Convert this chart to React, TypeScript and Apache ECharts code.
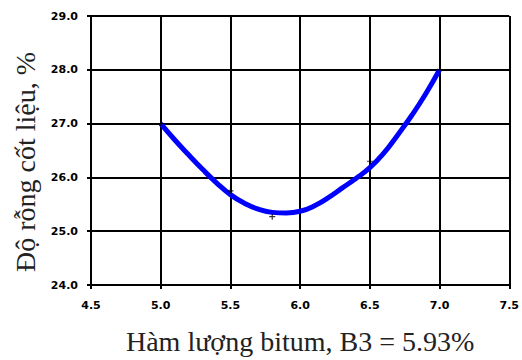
import React, { useEffect, useRef } from "react";
import * as echarts from "echarts";

// Measured points (bitumen content %, VMA %)
const pointX = [5.0, 5.5, 5.8, 6.5, 7.0];
const pointY = [27.0, 25.75, 25.27, 26.3, 28.0];

// Fitted trend curve
const curveX = [5.0, 5.1, 5.2, 5.3, 5.4, 5.5, 5.6, 5.7, 5.8, 5.9, 6.0, 6.1, 6.2, 6.3, 6.4, 6.5, 6.6, 6.7, 6.8, 6.9, 7.0];
const curveY = [27.0, 26.7, 26.42, 26.15, 25.9, 25.68, 25.52, 25.41, 25.35, 25.34, 25.37, 25.47, 25.62, 25.8, 25.98, 26.18, 26.45, 26.79, 27.15, 27.55, 28.0];

const xTicks = { min: 4.5, max: 7.5, interval: 0.5 };
const yTicks = { min: 24, max: 29, interval: 1 };

const xTitle = "Hàm lượng bitum, B3 = 5.93%";
const yTitle = "Độ rỗng cốt liệu, %";

export default function App() {
  const ref = useRef<HTMLDivElement>(null);
  useEffect(() => {
    document.body.style.margin = "0";
    const chart = echarts.init(ref.current!, null, { renderer: "svg" });
    const labelStyle = {
      color: "#000",
      fontFamily: "DejaVu Sans",
      fontSize: 11,
      fontWeight: "bold" as const,
    };
    const lineStyle = { color: "#000", width: 2 };
    chart.setOption({
      animation: false,
      backgroundColor: "#fff",
      grid: { left: 91, right: 11, top: 16, bottom: 73 },
      xAxis: {
        type: "value",
        min: xTicks.min,
        max: xTicks.max,
        interval: xTicks.interval,
        name: xTitle,
        nameLocation: "middle",
        nameGap: 42,
        nameTextStyle: { color: "#222", fontFamily: "Liberation Serif", fontSize: 28 },
        axisLine: { show: true, lineStyle },
        axisTick: { show: true, length: 4, lineStyle },
        axisLabel: { ...labelStyle, margin: 15, formatter: (v: number) => v.toFixed(1) },
        splitLine: { show: true, lineStyle },
      },
      yAxis: {
        type: "value",
        min: yTicks.min,
        max: yTicks.max,
        interval: yTicks.interval,
        axisLine: { show: true, lineStyle },
        axisTick: { show: true, length: 4, lineStyle },
        axisLabel: { ...labelStyle, margin: 13, formatter: (v: number) => v.toFixed(1) },
        splitLine: { show: true, lineStyle },
      },
      graphic: [
        {
          type: "text",
          x: 25,
          y: 162,
          rotation: Math.PI / 2,
          style: {
            text: yTitle,
            fill: "#222",
            font: "28px 'Liberation Serif'",
            align: "center",
            verticalAlign: "middle",
          },
        },
      ],
      series: [
        {
          type: "line",
          data: curveX.map((x, i) => [x, curveY[i]]),
          smooth: true,
          showSymbol: false,
          lineStyle: { color: "#0000ff", width: 5 },
          z: 3,
        },
        {
          type: "scatter",
          data: pointX.map((x, i) => [x, pointY[i]]),
          symbol: "path://M4,0h2v4h4v2h-4v4h-2v-4h-4v-2h4z",
          symbolSize: 6,
          itemStyle: { color: "#000" },
          z: 4,
        },
      ],
    });
    return () => chart.dispose();
  }, []);
  return <div ref={ref} style={{ width: 522, height: 360 }} />;
}
